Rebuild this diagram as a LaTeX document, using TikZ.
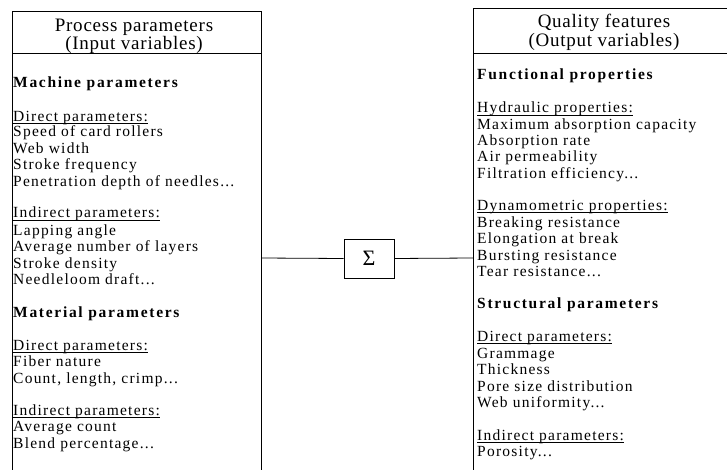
\documentclass[tikz,border=0pt]{standalone}
\usepackage{fontspec}
\setmainfont{Liberation Serif}[LetterSpace=8]
\newcommand{\bsp}[1]{{\addfontfeatures{LetterSpace=11}\bfseries #1}}
\newcommand{\ulx}[1]{\setbox0\hbox{#1}\rlap{\rule[-2.3pt]{\wd0}{0.7pt}}\box0}
\begin{document}
\begin{tikzpicture}[x=1pt,y=-1pt,
  txt/.style={anchor=base west,inner sep=0pt,font=\fontsize{15.5}{16}\selectfont},
  head/.style={anchor=base,inner sep=0pt,font=\fontsize{19}{21}\selectfont\addfontfeatures{LetterSpace=4}},
  boxline/.style={line width=0.8pt},
  sigbox/.style={draw,line width=0.8pt,minimum width=50pt,minimum height=39pt,inner sep=0pt,font=\fontsize{22}{24}\selectfont\addfontfeatures{LetterSpace=0}}]
\useasboundingbox (0,0) rectangle (727,470);
% left box
\draw[boxline] (12,470) -- (12,11) -- (261,11) -- (261,470);
\draw[boxline] (12,53) -- (261,53);
% right box
\draw[boxline] (473,470) -- (473,8) -- (727,8);
\draw[boxline] (473,53) -- (727,53);
\coordinate (lout) at (261,258);
\coordinate (rin) at (473,258);
\node[sigbox] (sig) at (369,258.5) {Σ};
\draw[boxline] (lout) -- (sig.west);
\draw[boxline] (sig.east) -- (rin);
% headers
\node[head] (h1) at (134,31.5) {Process parameters};
\node[head] (h2) at (134,50) {(Input variables)};
\node[head] (h3) at (604,27.5) {Quality features};
\node[head] (h4) at (604,47) {(Output variables)};
% left text
\node[txt] (l1) at (13,88) {\bsp{Machine parameters}};
\node[txt] (l2) at (13,121.5) {\ulx{Direct parameters:}};
\node[txt] (l3) at (13,137) {Speed of card rollers};
\node[txt] (l4) at (13,153.5) {Web width};
\node[txt] (l5) at (13,170) {Stroke frequency};
\node[txt] (l6) at (13,186.5) {Penetration depth of needles...};
\node[txt] (l7) at (13,218) {\ulx{Indirect parameters:}};
\node[txt] (l8) at (13,235) {Lapping angle};
\node[txt] (l9) at (13,251.5) {Average number of layers};
\node[txt] (l10) at (13,268) {Stroke density};
\node[txt] (l11) at (13,284.5) {Needleloom draft...};
\node[txt] (l12) at (13,317) {\bsp{Material parameters}};
\node[txt] (l13) at (13,350) {\ulx{Direct parameters:}};
\node[txt] (l14) at (13,366.5) {Fiber nature};
\node[txt] (l15) at (13,383) {Count, length, crimp...};
\node[txt] (l16) at (13,415) {\ulx{Indirect parameters:}};
\node[txt] (l17) at (13,431.5) {Average count};
\node[txt] (l18) at (13,448) {Blend percentage...};
% right text
\node[txt] (r1) at (477,80) {\bsp{Functional properties}};
\node[txt] (r2) at (477,113) {\ulx{Hydraulic properties:}};
\node[txt] (r3) at (477,129.5) {Maximum absorption capacity};
\node[txt] (r4) at (477,146) {Absorption rate};
\node[txt] (r5) at (477,162) {Air permeability};
\node[txt] (r6) at (477,178.5) {Filtration efficiency...};
\node[txt] (r7) at (477,210.5) {\ulx{Dynamometric properties:}};
\node[txt] (r8) at (477,227) {Breaking resistance};
\node[txt] (r9) at (477,243.5) {Elongation at break};
\node[txt] (r10) at (477,260) {Bursting resistance};
\node[txt] (r11) at (477,276.5) {Tear resistance...};
\node[txt] (r12) at (477,308) {\bsp{Structural parameters}};
\node[txt] (r13) at (477,341.5) {\ulx{Direct parameters:}};
\node[txt] (r14) at (477,358) {Grammage};
\node[txt] (r15) at (477,374.5) {Thickness};
\node[txt] (r16) at (477,391) {Pore size distribution};
\node[txt] (r17) at (477,407) {Web uniformity...};
\node[txt] (r18) at (477,440) {\ulx{Indirect parameters:}};
\node[txt] (r19) at (477,456.5) {Porosity...};
\end{tikzpicture}
\end{document}
